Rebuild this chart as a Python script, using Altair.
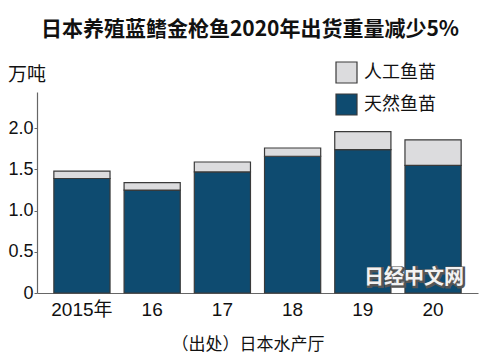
import altair as alt
import pandas as pd

years = ["2015年", "16", "17", "18", "19", "20"]
wild = [1.39, 1.25, 1.47, 1.66, 1.74, 1.55]
artificial = [0.09, 0.09, 0.12, 0.10, 0.22, 0.31]
series = ["人工鱼苗", "天然鱼苗"]
colors = ["#dcdcde", "#0e4b70"]

rows = []
for y, w, a in zip(years, wild, artificial):
    rows.append({"year": y, "series": "天然鱼苗", "value": w, "ord": 0})
    rows.append({"year": y, "series": "人工鱼苗", "value": a, "ord": 1})
df = pd.DataFrame(rows)

CJK = "Noto Sans CJK SC"
NUM = "Liberation Sans, Noto Sans CJK SC"

bars = alt.Chart(df).mark_bar(stroke="#3a3a3a", strokeWidth=1.2).encode(
    x=alt.X("year:N", sort=years, title=None,
            scale=alt.Scale(paddingInner=0.2, paddingOuter=0.24),
            axis=alt.Axis(labelAngle=0, ticks=False, labelFont=NUM, labelFontSize=19,
                          labelColor="#111", labelPadding=7, domainColor="#666",
                          domainWidth=1.2)),
    y=alt.Y("value:Q", stack="zero", title=None,
            scale=alt.Scale(domain=[0, 2.44], nice=False),
            axis=alt.Axis(values=[0, 0.5, 1.0, 1.5, 2.0],
                          labelExpr="datum.value == 0 ? '0' : format(datum.value, '.1f')",
                          labelFont=NUM, labelFontSize=18, labelColor="#111",
                          tickSize=3, tickColor="#666", domainColor="#666",
                          domainWidth=1.2, grid=False, labelPadding=1)),
    color=alt.Color("series:N", scale=alt.Scale(domain=series, range=colors),
                    legend=alt.Legend(title=None, orient="none", legendX=298, legendY=-31,
                                      symbolType="square", symbolSize=441,
                                      symbolStrokeColor="#3a3a3a", symbolStrokeWidth=1.2,
                                      labelFont=CJK, labelFontSize=18, labelColor="#111",
                                      rowPadding=5, labelOffset=6)),
    order=alt.Order("ord:Q"),
)

def label(text, x, y, size, weight="normal", color="#111", **kw):
    return alt.Chart(pd.DataFrame({"t": [text]})).mark_text(
        font=CJK, fontSize=size, fontWeight=weight, color=color,
        align="center", baseline="middle", **kw
    ).encode(text="t:N", x=alt.value(x), y=alt.value(y))

title = label("日本养殖蓝鳍金枪鱼2020年出货重量减少5%", 213, -62, 21, "bold")
unit = label("万吨", -10, -17, 19)
source = label("（出处）日本水产厅", 211, 253, 17)
mark_bg = label("日经中文网", 378, 187, 20, "bold", color="#555",
                stroke="#555", strokeWidth=3)
mark_fg = label("日经中文网", 377, 186, 20, "bold", color="#f2f2f2")

chart = alt.layer(bars, title, unit, source, mark_bg, mark_fg).properties(
    width=441, height=201,
    padding={"left": 29, "top": 84, "right": 7, "bottom": 70},
    autosize=alt.AutoSizeParams(type="none"),
    background="white",
).configure_view(stroke=None)

chart.save("out.html", embed_options={"renderer": "svg", "actions": False})
